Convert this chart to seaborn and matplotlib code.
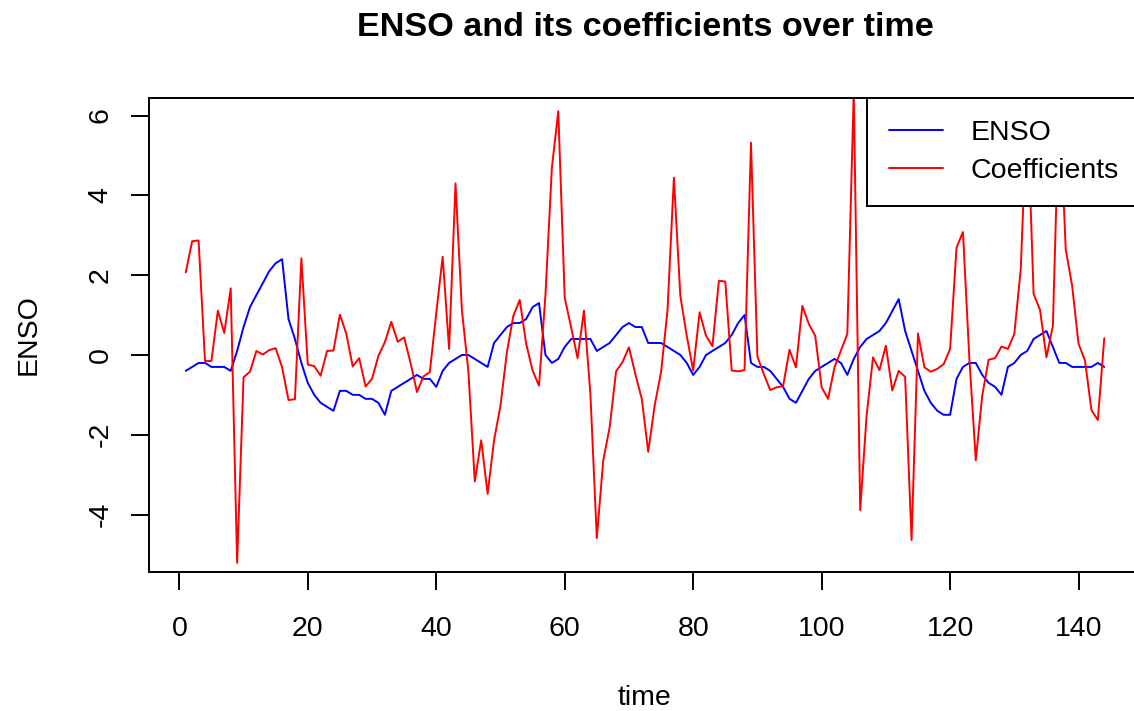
import matplotlib
matplotlib.use("Agg")
import matplotlib.pyplot as plt
import seaborn as sns
import numpy as np
import pandas as pd

time = list(range(1, 145))

enso = [
    -0.4, -0.3, -0.2, -0.2, -0.3, -0.3, -0.3, -0.4, 0.1, 0.7,
    1.2, 1.5, 1.8, 2.1, 2.3, 2.4, 0.9, 0.4, -0.2, -0.7,
    -1.0, -1.2, -1.3, -1.4, -0.9, -0.9, -1.0, -1.0, -1.1, -1.1,
    -1.2, -1.5, -0.9, -0.8, -0.7, -0.6, -0.5, -0.6, -0.6, -0.8,
    -0.4, -0.2, -0.1, 0.0, 0.0, -0.1, -0.2, -0.3, 0.3, 0.5,
    0.7, 0.8, 0.8, 0.9, 1.2, 1.3, 0.0, -0.2, -0.1, 0.2,
    0.4, 0.4, 0.4, 0.4, 0.1, 0.2, 0.3, 0.5, 0.7, 0.8,
    0.7, 0.7, 0.3, 0.3, 0.3, 0.2, 0.1, 0.0, -0.2, -0.5,
    -0.3, 0.0, 0.1, 0.2, 0.3, 0.5, 0.8, 1.0, -0.2, -0.3,
    -0.3, -0.4, -0.6, -0.8, -1.1, -1.2, -0.9, -0.6, -0.4, -0.3,
    -0.2, -0.1, -0.2, -0.5, -0.1, 0.2, 0.4, 0.5, 0.6, 0.8,
    1.1, 1.4, 0.6, 0.1, -0.4, -0.9, -1.2, -1.4, -1.5, -1.5,
    -0.6, -0.3, -0.2, -0.2, -0.5, -0.7, -0.8, -1.0, -0.3, -0.2,
    0.0, 0.1, 0.4, 0.5, 0.6, 0.2, -0.2, -0.2, -0.3, -0.3,
    -0.3, -0.3, -0.2, -0.3,
]

coefficients = [
    2.07, 2.85, 2.87, -0.15, -0.15, 1.11, 0.55, 1.67, -5.21, -0.56,
    -0.42, 0.10, 0.01, 0.12, 0.17, -0.31, -1.13, -1.11, 2.42, -0.24,
    -0.28, -0.52, 0.10, 0.11, 1.01, 0.53, -0.29, -0.08, -0.79, -0.60,
    -0.02, 0.32, 0.83, 0.33, 0.44, -0.20, -0.93, -0.54, -0.43, 1.05,
    2.46, 0.15, 4.30, 1.11, -0.40, -3.17, -2.14, -3.48, -2.14, -1.27,
    0.07, 0.98, 1.38, 0.28, -0.39, -0.77, 1.50, 4.69, 6.11, 1.44,
    0.69, -0.08, 1.11, -0.98, -4.59, -2.64, -1.81, -0.41, -0.18, 0.19,
    -0.48, -1.10, -2.43, -1.27, -0.43, 1.11, 4.44, 1.48, 0.48, -0.39,
    1.07, 0.48, 0.22, 1.86, 1.84, -0.39, -0.41, -0.38, 5.32, -0.04,
    -0.48, -0.88, -0.81, -0.78, 0.13, -0.31, 1.23, 0.78, 0.48, -0.81,
    -1.10, -0.31, 0.11, 0.53, 6.60, -3.89, -1.52, -0.06, -0.38, 0.23,
    -0.89, -0.40, -0.55, -4.64, 0.54, -0.31, -0.42, -0.35, -0.23, 0.15,
    2.69, 3.08, -0.10, -2.64, -1.02, -0.12, -0.08, 0.21, 0.15, 0.53,
    2.15, 6.30, 1.53, 1.13, -0.06, 0.73, 6.50, 2.65, 1.73, 0.28,
    -0.14, -1.38, -1.63, 0.42,
]

x_ticks = [0, 20, 40, 60, 80, 100, 120, 140]
y_ticks = [-4, -2, 0, 2, 4, 6]
title = "ENSO and its coefficients over time"

sns.set_style("white")
plt.rcParams["font.family"] = ["Liberation Sans", "DejaVu Sans"]
plt.rcParams["axes.unicode_minus"] = False
plt.rcParams["text.color"] = "black"
plt.rcParams["axes.labelcolor"] = "black"

W, H = 1134, 711
fig = plt.figure(figsize=(W / 100, H / 100), dpi=100)
ax = fig.add_axes([149 / W, 1 - 572 / H, 992 / W, 474 / H])

df = pd.DataFrame({"time": time, "ENSO": enso, "Coefficients": coefficients})
sns.lineplot(data=df, x="time", y="ENSO", ax=ax, color="#0000FF", lw=1.4, label="ENSO")
sns.lineplot(data=df, x="time", y="Coefficients", ax=ax, color="#FF0000", lw=1.4, label="Coefficients")

ax.set_xlim(-4.72, 149.72)
ax.set_ylim(-5.44, 6.44)
ax.set_xticks(x_ticks)
ax.set_yticks(y_ticks)
ax.set_xticklabels([str(v) for v in x_ticks], fontsize=20.5)
ax.set_yticklabels([str(v) for v in y_ticks], fontsize=20.5, rotation=90, va="center")
ax.tick_params(axis="both", direction="out", length=13, width=1.4, color="black",
               labelcolor="black", bottom=True, left=True, top=False, right=False)
ax.tick_params(axis="x", pad=18.5)
ax.tick_params(axis="y", pad=12.6)
for s in ax.spines.values():
    s.set_visible(True)
    s.set_color("black")
    s.set_linewidth(1.4)

ax.set_xlabel("time", fontsize=20.5, labelpad=31, color="black")
ax.set_ylabel("ENSO", fontsize=20.5, labelpad=33, color="black")
fig.text(645 / W, 1 - 28 / H, title, fontsize=24.6, fontweight="bold", ha="center", va="center", color="black")

leg = ax.legend(loc="upper right", bbox_to_anchor=(1, 1), borderaxespad=0, fontsize=20.5,
                frameon=True, fancybox=False, framealpha=1, edgecolor="black",
                handlelength=1.9, handletextpad=0.95, borderpad=0.78, labelspacing=0.42)
leg.get_frame().set_linewidth(1.4)
for t in leg.get_texts():
    t.set_color("black")

fig.savefig("out.png", dpi=100)
